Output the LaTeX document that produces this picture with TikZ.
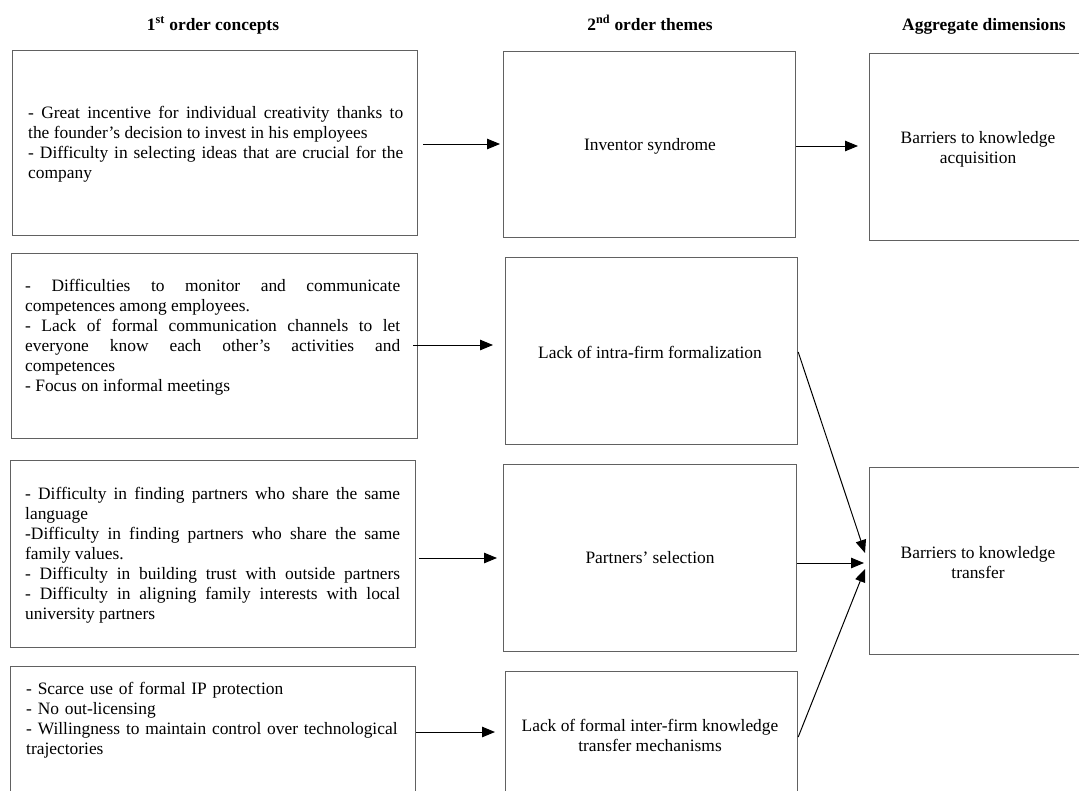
\documentclass[tikz,border=0pt]{standalone}
\usepackage{fontspec}
\setmainfont{Liberation Serif}
\usetikzlibrary{arrows.meta,calc}
\begin{document}
\begin{tikzpicture}[x=1pt,y=-1pt,
  box/.style={draw=black!62, line width=1.2pt, inner sep=0pt, anchor=north west},
  txt/.style={inner sep=0pt, anchor=north west, font=\fontsize{17.4}{20}\selectfont, align=justify},
  ctxt/.style={inner sep=0pt, font=\fontsize{17.4}{20}\selectfont, align=center},
  hdr/.style={inner sep=0pt, anchor=base, font=\fontsize{17.4}{20}\selectfont\bfseries},
  arr/.style={draw=black, line width=1pt, -{Triangle[length=13pt,width=10.5pt]}}]
\useasboundingbox (0,0) rectangle (1079,790);
\clip (0,0) rectangle (1079,790);
% headers
\node[hdr] (h1) at (213,30) {1\textsuperscript{st} order concepts};
\node[hdr] (h2) at (650,30) {2\textsuperscript{nd} order themes};
\node[hdr] (h3) at (984,30) {Aggregate dimensions};
% first column boxes
\node[box, minimum width=405pt, minimum height=185pt] (A1) at (12,50) {};
\node[box, minimum width=406pt, minimum height=185pt] (A2) at (11,253) {};
\node[box, minimum width=405pt, minimum height=187pt] (A3) at (10,460) {};
\node[box, minimum width=405pt, minimum height=187pt] (A4) at (10,666) {};
% second column boxes
\node[box, minimum width=292pt, minimum height=186pt] (B1) at (503,51) {};
\node[box, minimum width=292pt, minimum height=187pt] (B2) at (505,257) {};
\node[box, minimum width=293pt, minimum height=187pt] (B3) at (503,464) {};
\node[box, minimum width=292pt, minimum height=187pt] (B4) at (505,671) {};
% third column boxes
\node[box, minimum width=218pt, minimum height=187pt] (C1) at (869,53) {};
\node[box, minimum width=218pt, minimum height=187pt] (C2) at (869,467) {};
% first column texts
\node[txt, text width=375pt] (tA1) at (28,104) {\strut- Great incentive for individual creativity thanks to\linebreak the founder's decision to invest in his employees\\- Difficulty in selecting ideas that are crucial for the\linebreak company};
\node[txt, text width=375pt] (tA2) at (25,277) {\strut- Difficulties to monitor and communicate\linebreak competences among employees.\\- Lack of formal communication channels to let\linebreak everyone know each other's activities and\linebreak competences\\- Focus on informal meetings};
\node[txt, text width=375pt] (tA3) at (25,485) {\strut- Difficulty in finding partners who share the same\linebreak language\\-Difficulty in finding partners who share the same\linebreak family values.\\- Difficulty in building trust with outside partners\linebreak - Difficulty in aligning family interests with local\linebreak university partners};
\node[txt, text width=380pt, align=left] (tA4) at (26,680) {\strut- Scarce use of formal IP protection\\- No out-licensing\\- Willingness to maintain control over technological\\trajectories};
% second column texts
\node[ctxt] (tB1) at (650,146) {Inventor syndrome};
\node[ctxt] (tB2) at (650,352) {Lack of intra-firm formalization};
\node[ctxt] (tB3) at (650,558) {Partners' selection};
\node[ctxt] (tB4) at (650,735) {Lack of formal inter-firm knowledge\\transfer mechanisms};
% third column texts
\node[ctxt] (tC1) at (978,149) {Barriers to knowledge\\acquisition};
\node[ctxt] (tC2) at (978,563) {Barriers to knowledge\\transfer};
% arrows
\draw[arr] ($(A1.north east)+(5,94)$) -- ($(B1.north west)+(-3,93)$);
\draw[arr] ($(B1.north east)+(0,95)$) -- ($(C1.north west)+(-11,93)$);
\draw[arr] ($(A2.north east)+(-5,92)$) -- ($(B2.north west)+(-12,88)$);
\draw[arr] ($(B2.north east)+(0,95)$) -- ($(C2.north west)+(-4,86)$);
\draw[arr] ($(A3.north east)+(3,98)$) -- ($(B3.north west)+(-6,94)$);
\draw[arr] ($(B3.north east)+(0,99)$) -- ($(C2.north west)+(-5,96)$);
\draw[arr] ($(A4.north east)+(0,66)$) -- ($(B4.north west)+(-10,61)$);
\draw[arr] ($(B4.north east)+(0,66)$) -- ($(C2.north west)+(-4,102)$);
\end{tikzpicture}
\end{document}
